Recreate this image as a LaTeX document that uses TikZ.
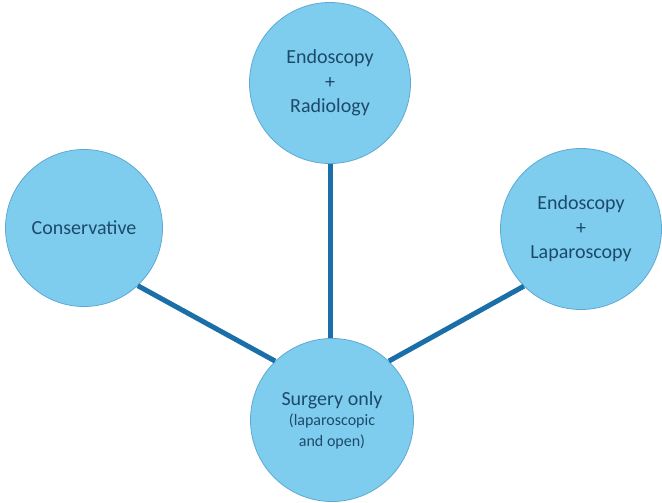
\documentclass[tikz,border=0pt]{standalone}
\usepackage{fontspec}
\setmainfont{Carlito}
\definecolor{cfill}{HTML}{7FCDEE}
\definecolor{cdraw}{HTML}{5EA9D2}
\definecolor{ctext}{HTML}{1C4A6A}
\definecolor{cline}{HTML}{1B6FA8}
\begin{document}
\begin{tikzpicture}[x=1pt,y=-1pt,
  bubble/.style={circle,fill=cfill,draw=cdraw,line width=0.8pt,minimum size=161pt,inner sep=0pt,
    text=ctext,align=center,font=\fontsize{20}{24.5}\selectfont},
  link/.style={draw=cline,line width=5pt}]
\useasboundingbox (0,0) rectangle (662,503);
\node[bubble] (top) at (330,83) {Endoscopy\\+\\Radiology};
\node[bubble,minimum size=157pt] (left) at (84,228) {Conservative};
\node[bubble] (right) at (581,229) {Endoscopy\\+\\Laparoscopy};
\node[bubble,minimum size=163pt,font=\fontsize{16}{20.5}\selectfont] (bot) at (332,420) {{\fontsize{20}{20.5}\selectfont Surgery only}\\(laparoscopic\\and open)};
\draw[link] (top.south) -- (top.south |- bot.north);
\draw[link] (left.-47) -- (bot.134);
\draw[link] (right.-135) -- (bot.46);
\end{tikzpicture}
\end{document}
